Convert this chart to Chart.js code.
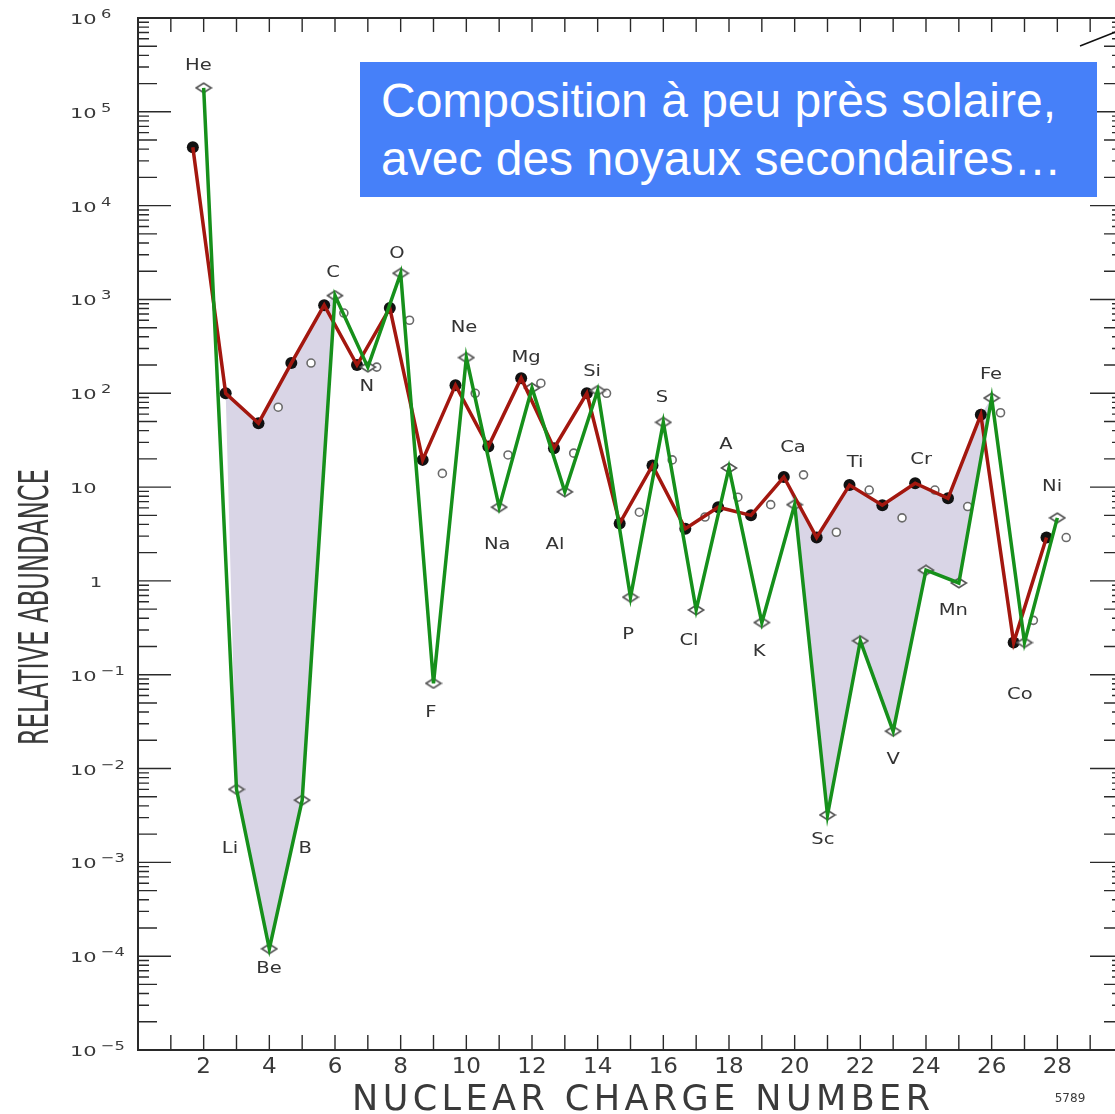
<!DOCTYPE html>
<html>
<head>
<meta charset="utf-8">
<style>
  html, body { margin: 0; padding: 0; background: #fff; overflow: hidden; }
  #wrap { position: relative; width: 1115px; height: 1114px; overflow: hidden; }
  #abund { position: absolute; left: 0; top: 0; }
  #note {
    position: absolute; left: 360px; top: 62px; width: 737px; height: 135px;
    box-sizing: border-box; padding: 10px 0 0 21px;
    background: #4680f9; color: #fff; white-space: nowrap;
    font-family: "Liberation Sans", Arial, sans-serif; font-size: 48px; line-height: 58px;
  }
</style>
<script src="https://cdn.jsdelivr.net/npm/chart.js@4/dist/chart.umd.min.js"></script>
</head>
<body>
<div id="wrap">
  <canvas id="abund" width="1130" height="1114"></canvas>
  <div id="note">Composition à peu près solaire,<br>avec des noyaux secondaires…</div>
</div>
<script>
// numéros atomiques et symboles
const charges = [2, 3, 4, 5, 6, 7, 8, 9, 10, 11, 12, 13, 14, 15, 16, 17, 18, 19, 20, 21, 22, 23, 24, 25, 26, 27, 28];
const symbols = ["He", "Li", "Be", "B", "C", "N", "O", "F", "Ne", "Na", "Mg", "Al", "Si", "P", "S",
  "Cl", "A", "K", "Ca", "Sc", "Ti", "V", "Cr", "Mn", "Fe", "Co", "Ni"];

// rayons cosmiques (points noirs, ligne rouge)
const cosmicRays = [4.2e4, 100, 48, 210, 870, 200, 810, 19.5, 122, 27, 145, 26, 100, 4.1, 17,
  3.6, 6.1, 5.0, 12.8, 2.9, 10.5, 6.4, 11, 7.6, 59, 0.22, 2.9];

// système solaire (losanges, ligne verte)
const solarSystem = [1.8e5, 6.0e-3, 1.2e-4, 4.6e-3, 1100, 190, 1900, 0.081, 240, 6.1, 114, 8.9, 107, 0.67, 49,
  0.49, 16, 0.36, 6.5, 3.2e-3, 0.23, 0.025, 1.3, 0.95, 89, 0.22, 4.7];

// autres mesures (cercles ouverts)
const otherCharges = [4, 5, 6, 7, 8, 9, 10, 11, 12, 13, 14, 15, 16, 17, 18, 19, 20, 21, 22, 23, 24, 25, 26, 27, 28];
const otherRays = [71, 210, 716, 190, 600, 14, 100, 22, 128, 23, 100, 5.4, 19.5, 4.8, 7.8,
  6.5, 13.5, 3.3, 9.3, 4.7, 9.3, 6.2, 62, 0.38, 2.9];

// graduations
const decades = [-5, -4, -3, -2, -1, 0, 1, 2, 3, 4, 5, 6];
const xTickLabels = [2, 4, 6, 8, 10, 12, 14, 16, 18, 20, 22, 24, 26, 28];

const RED_DX = -0.33;
const OPEN_DX = 0.27;
const ink = "#2a2a2a";

const pts = (xs, ys, dx = 0) => xs.map((z, i) => ({ x: z + dx, y: ys[i] }));

// zone grisée entre les deux courbes
const shadePolygon = (from, to) => {
  const i0 = charges.indexOf(from);
  const i1 = charges.indexOf(to) + 1;
  const top = pts(charges.slice(i0, i1), cosmicRays.slice(i0, i1), RED_DX);
  const bottom = pts(charges.slice(i0, i1), solarSystem.slice(i0, i1)).reverse();
  return top.concat(bottom);
};

// losange aplati
const diamond = document.createElement("canvas");
diamond.width = 18;
diamond.height = 12;
(() => {
  const c = diamond.getContext("2d");
  c.beginPath();
  c.moveTo(1.5, 6); c.lineTo(9, 1.3); c.lineTo(16.5, 6); c.lineTo(9, 10.7); c.closePath();
  c.fillStyle = "#fff";
  c.fill();
  c.lineWidth = 1.6;
  c.strokeStyle = "#555";
  c.stroke();
})();

// emplacement des symboles (Z, log10)
const labelSpots = {
  He: [1.84, 5.49], Li: [2.80, -2.86], Be: [3.99, -4.13], B: [5.09, -2.86], C: [5.94, 3.28], N: [6.97, 2.07],
  O: [7.89, 3.49], F: [8.92, -1.41], Ne: [9.93, 2.70], Na: [10.94, 0.38], Mg: [11.82, 2.38], Al: [12.70, 0.38],
  Si: [13.83, 2.23], P: [14.93, -0.58], S: [15.96, 1.95], Cl: [16.78, -0.64], A: [17.91, 1.45], K: [18.92, -0.76],
  Ca: [19.95, 1.42], Sc: [20.86, -2.76], Ti: [21.84, 1.26], V: [23.00, -1.91], Cr: [23.85, 1.29], Mn: [24.83, -0.32],
  Fe: [25.98, 2.20], Co: [26.86, -1.21], Ni: [27.84, 1.00],
};

// texte élargi (lettrage du graphique original)
const wideText = (ctx, text, x, y, sx, align = "center") => {
  ctx.save();
  ctx.translate(x, y);
  ctx.scale(sx, 1);
  ctx.textAlign = align;
  ctx.fillText(text, 0, 0);
  ctx.restore();
};

const spacedText = (ctx, text, cx, cy, width) => {
  const w0 = ctx.measureText(text).width;
  if (w0 >= width) {
    ctx.textAlign = "center";
    ctx.fillText(text, cx, cy, width);
    return;
  }
  const sp = (width - w0) / (text.length - 1);
  let x = cx - width / 2;
  ctx.textAlign = "left";
  for (const ch of text) {
    ctx.fillText(ch, x, cy);
    x += ctx.measureText(ch).width + sp;
  }
};

const frame = {
  id: "frame",
  beforeDatasetsDraw(chart) {
    const { ctx, chartArea: a, scales: { x, y } } = chart;
    ctx.save();
    ctx.strokeStyle = ink;
    ctx.lineWidth = 2;
    ctx.strokeRect(a.left, a.top, a.right - a.left, a.bottom - a.top);
    ctx.lineWidth = 1.4;
    ctx.beginPath();
    for (let z = 1; z < 30; z++) {
      const px = x.getPixelForValue(z);
      ctx.moveTo(px, a.top); ctx.lineTo(px, a.top + 14);
      ctx.moveTo(px, a.bottom); ctx.lineTo(px, a.bottom - 15);
    }
    decades.forEach((e) => {
      for (let m = 1; m <= 9; m++) {
        const v = m * Math.pow(10, e);
        if (v > 1e6 * 1.001) break;
        const py = y.getPixelForValue(v);
        const len = m === 1 ? 33 : (m === 2 || m === 5 ? 19 : 11);
        ctx.moveTo(a.left, py); ctx.lineTo(a.left + len, py);
        ctx.moveTo(a.right, py); ctx.lineTo(a.right - len, py);
      }
    });
    ctx.stroke();

    // petit trait en haut à droite
    ctx.lineWidth = 1.5;
    ctx.strokeStyle = "#111";
    ctx.beginPath();
    ctx.moveTo(1080, 46); ctx.lineTo(1118, 31);
    ctx.stroke();
    ctx.restore();
  },
  afterDatasetsDraw(chart) {
    const { ctx, chartArea: a, scales: { x, y } } = chart;
    ctx.save();
    ctx.fillStyle = "#3a3a3a";
    ctx.textBaseline = "alphabetic";

    // étiquettes de l'axe y : « 10 » élargi, exposant presque aussi grand
    decades.forEach((e) => {
      const py = y.getPixelForValue(Math.pow(10, e));
      ctx.font = "14px 'DejaVu Sans'";
      if (e === 0) {
        wideText(ctx, "1", 96, py + 6, 1.4);
        return;
      }
      wideText(ctx, "10", 70, py + 6, 1.5, "left");
      if (e !== 1) {
        ctx.font = "13px 'DejaVu Sans'";
        wideText(ctx, e < 0 ? "\u2212" + -e : String(e), 101, py, 1.25, "left");
      }
    });

    // étiquettes de l'axe x
    ctx.textBaseline = "middle";
    ctx.font = "21px 'DejaVu Sans'";
    xTickLabels.forEach((z) => {
      wideText(ctx, String(z), x.getPixelForValue(z), a.bottom + 18, 1.1);
    });

    // titres des axes
    ctx.font = "35px 'DejaVu Sans'";
    spacedText(ctx, "NUCLEAR CHARGE NUMBER", 641, 1101, 578);
    ctx.save();
    ctx.translate(38, 607);
    ctx.rotate(-Math.PI / 2);
    ctx.font = "40px 'DejaVu Sans'";
    ctx.textAlign = "center";
    ctx.fillText("RELATIVE ABUNDANCE", 0, 0, 276);
    ctx.restore();

    ctx.font = "12px 'DejaVu Sans'";
    ctx.textAlign = "center";
    ctx.fillText("5789", 1070, 1099);

    // symboles des éléments
    ctx.font = "16px 'DejaVu Sans'";
    ctx.fillStyle = "#333";
    symbols.forEach((s) => {
      const [z, lg] = labelSpots[s];
      wideText(ctx, s, x.getPixelForValue(z), y.getPixelForValue(Math.pow(10, lg)), 1.22);
    });
    ctx.restore();
  },
};

new Chart(document.getElementById("abund"), {
  type: "line",
  data: {
    datasets: [
      {
        label: "Li Be B",
        data: shadePolygon(3, 6),
        fill: "shape",
        backgroundColor: "#d9d5e6",
        borderColor: "transparent",
        borderWidth: 0,
        pointRadius: 0,
        order: 7,
      },
      {
        label: "Sc Ti V Cr Mn",
        data: shadePolygon(20, 26),
        fill: "shape",
        backgroundColor: "#d9d5e6",
        borderColor: "transparent",
        borderWidth: 0,
        pointRadius: 0,
        order: 6,
      },
      {
        label: "autres",
        data: pts(otherCharges, otherRays, OPEN_DX),
        showLine: false,
        pointStyle: "circle",
        pointRadius: 4,
        pointBackgroundColor: "#fff",
        pointBorderColor: "#6a6a6a",
        pointBorderWidth: 1.6,
        order: 5,
      },
      {
        label: "points",
        data: pts(charges, cosmicRays, RED_DX),
        showLine: false,
        pointRadius: 6,
        pointBackgroundColor: "#111",
        pointBorderWidth: 0,
        order: 4,
      },
      {
        label: "losanges",
        data: pts(charges, solarSystem),
        showLine: false,
        pointStyle: diamond,
        order: 3,
      },
      {
        label: "rayons cosmiques",
        data: pts(charges, cosmicRays, RED_DX),
        borderColor: "#a3170f",
        borderWidth: 3.5,
        pointRadius: 0,
        fill: false,
        order: 2,
      },
      {
        label: "système solaire",
        data: pts(charges, solarSystem),
        borderColor: "#16901b",
        borderWidth: 3.5,
        pointRadius: 0,
        fill: false,
        order: 1,
      },
    ],
  },
  options: {
    responsive: false,
    animation: false,
    devicePixelRatio: 1,
    layout: { padding: { left: 138, top: 18, right: 7, bottom: 64 } },
    elements: { line: { tension: 0 } },
    plugins: {
      legend: { display: false },
      tooltip: { enabled: false },
    },
    scales: {
      x: { type: "linear", min: 0, max: 30, display: false },
      y: { type: "logarithmic", min: 1e-5, max: 1e6, display: false },
    },
  },
  plugins: [frame],
});
</script>
</body>
</html>
